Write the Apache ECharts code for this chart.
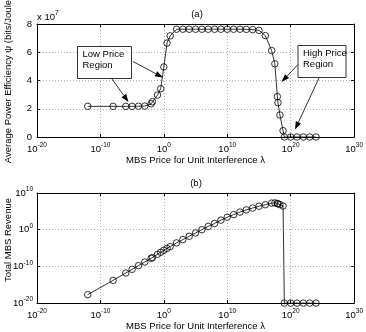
<!DOCTYPE html>
<html>
<head>
<meta charset="utf-8">
<script src="https://cdn.jsdelivr.net/npm/echarts@6/dist/echarts.min.js"></script>
<style>html,body{margin:0;padding:0;background:#fff}#main{width:366px;height:332px}</style>
</head>
<body>
<div id="main"></div>
<script>
// MBS price for unit interference (lambda)
var lambda = [1e-12, 1e-8, 1e-6, 1e-5, 1e-4, 1e-3, 1e-2, 1.6e-2, 1e-1, 3.2e-1,
    1, 3.2, 10, 1e2, 1e3, 1e4, 1e5, 1e6, 1e7, 1e8, 1e9, 1e10, 1e11, 1e12, 1e13, 1e14, 1e15, 1e16,
    1e17, 3.2e17, 7.9e17, 1e18, 2e18, 6.3e18, 1e19, 1e20, 1e21, 1e22, 1e23, 1e24];
// (a) average power efficiency, x 10^7 bits/Joule
var efficiency = [2.17, 2.17, 2.17, 2.17, 2.18, 2.19, 2.35, 2.5, 2.97, 3.42,
    4.96, 6.65, 7.16, 7.63, 7.63, 7.63, 7.63, 7.63, 7.63, 7.63, 7.63, 7.63, 7.63, 7.63, 7.62, 7.6, 7.55, 7.18,
    6.12, 5.18, 2.86, 2.43, 1.56, 0.45, 0, 0, 0, 0, 0, 0];
// (b) total MBS revenue
var revenue = [2e-18, 1.6e-14, 1.6e-12, 1.6e-11, 1.6e-10, 1.6e-9, 1.6e-8, 2.5e-8, 2e-7, 7e-7,
    2.5e-6, 8e-6, 2.5e-5, 2.5e-4, 2e-3, 1.6e-2, 0.13, 1, 8, 50, 400, 2500, 1.3e4, 6.3e4, 2.5e5, 8e5, 2.5e6, 6.3e6,
    1.8e7, 2e7, 1.4e7, 1.1e7, 7e6, 2.8e6, 1e-20, 1e-20, 1e-20, 1e-20, 1e-20, 1e-20];
var effTicks = [0, 2, 4, 6, 8];

var FONT = 'Liberation Sans, Arial, Helvetica, sans-serif';
var chart = echarts.init(document.getElementById('main'));

function pairs(xs, ys) {
    return xs.map(function (x, i) { return [x, ys[i]]; });
}
function powLabel(v) {
    var e = Math.round(Math.log(v) / Math.LN10);
    return '{b|10}{s|' + e + '}';
}
var powRich = {
    b: {fontSize: 9.5, fontFamily: FONT, color: '#000'},
    s: {fontSize: 6.5, fontFamily: FONT, color: '#000', padding: [0, 0, 7, 0]}
};
var gridLine = {show: true, lineStyle: {color: '#b0b0b0', type: [1, 2], width: 1}};
var frame = {show: true, onZero: false, lineStyle: {color: '#000', width: 1}};
var tick = {show: true, inside: true, length: 3, lineStyle: {color: '#000'}};

function logX(grid, top) {
    return {
        type: 'log', logBase: 10, gridIndex: grid, position: top ? 'top' : 'bottom',
        min: 1e-20, max: 1e30, interval: 10, splitNumber: 5,
        axisLine: frame, axisTick: tick,
        axisLabel: top ? {show: false} : {formatter: powLabel, rich: powRich, margin: 5},
        splitLine: top ? {show: false} : gridLine
    };
}

function arrow(x1, y1, x2, y2) {
    var a = Math.atan2(y2 - y1, x2 - x1), L = 8, W = 2.8;
    var bx = x2 - L * Math.cos(a), by = y2 - L * Math.sin(a);
    var px = -Math.sin(a) * W, py = Math.cos(a) * W;
    return [
        {type: 'line', z: 100, shape: {x1: x1, y1: y1, x2: bx, y2: by}, style: {stroke: '#000', lineWidth: 0.8}},
        {type: 'polygon', z: 100, shape: {points: [[x2, y2], [bx + px, by + py], [bx - px, by - py]]}, style: {fill: '#000'}}
    ];
}
function box(x, y, w, h, label) {
    return [
        {type: 'rect', z: 100, shape: {x: x, y: y, width: w, height: h}, style: {fill: '#fff', stroke: '#000', lineWidth: 0.8}},
        {type: 'text', z: 101, x: x + 5, y: y + 3, style: {text: label, font: '9.5px ' + FONT, fill: '#000', lineHeight: 10.5}}
    ];
}
function txt(x, y, s, rot) {
    return {type: 'text', z: 100, x: x, y: y, rotation: rot || 0,
        style: {text: s, font: '9.5px ' + FONT, fill: '#000', align: 'center', verticalAlign: 'middle'}};
}

var graphics = [].concat(
    box(77.5, 46.5, 54, 32, 'Low Price\nRegion'),
    arrow(133, 61.5, 163, 77.5),
    arrow(112, 79, 128.5, 102),
    box(298, 45.5, 48, 32, 'High Price\nRegion'),
    arrow(298, 64.5, 281.5, 82),
    arrow(319, 78, 295, 129.5),
    [
        txt(197, 14, '(a)'),
        txt(196, 183, '(b)'),
        txt(8, 80, 'Average Power Efficiency \u03c8 (bits/Joule)', Math.PI / 2),
        txt(8, 240, 'Total MBS Revenue', Math.PI / 2),
        {type: 'text', z: 100, x: 37, y: 10,
            style: {text: '{b|x 10}{s|7}', rich: powRich, fill: '#000'}}
    ]
);

var option = {
    animation: false,
    backgroundColor: '#fff',
    textStyle: {fontFamily: FONT, color: '#000'},
    grid: [
        {left: 37, top: 24, width: 319, height: 113},
        {left: 37, top: 193, width: 319, height: 113}
    ],
    xAxis: [
        Object.assign(logX(0, false), {name: 'MBS Price for Unit Interference \u03bb', nameLocation: 'middle', nameGap: 13,
            nameTextStyle: {fontSize: 9.5, fontFamily: FONT, color: '#000', verticalAlign: 'top'}}),
        logX(0, true),
        Object.assign(logX(1, false), {name: 'MBS Price for Unit Interference \u03bb', nameLocation: 'middle', nameGap: 13,
            nameTextStyle: {fontSize: 9.5, fontFamily: FONT, color: '#000', verticalAlign: 'top'}}),
        logX(1, true)
    ],
    yAxis: [
        {type: 'value', gridIndex: 0, min: effTicks[0], max: effTicks[effTicks.length - 1], interval: 2,
            axisLine: frame, axisTick: tick, splitLine: gridLine,
            axisLabel: {fontSize: 9.5, fontFamily: FONT, color: '#000', margin: 5}},
        {type: 'value', gridIndex: 0, position: 'right', min: 0, max: 8, interval: 2,
            axisLine: frame, axisTick: tick, splitLine: {show: false}, axisLabel: {show: false}},
        {type: 'log', logBase: 10, gridIndex: 1, min: 1e-20, max: 1e10, interval: 10, splitNumber: 3,
            axisLine: frame, axisTick: tick, splitLine: gridLine,
            axisLabel: {formatter: powLabel, rich: powRich, margin: 4}},
        {type: 'log', logBase: 10, gridIndex: 1, position: 'right', min: 1e-20, max: 1e10, interval: 10, splitNumber: 3,
            axisLine: frame, axisTick: tick, splitLine: {show: false}, axisLabel: {show: false}}
    ],
    series: [
        {type: 'line', xAxisIndex: 0, yAxisIndex: 0, data: pairs(lambda, efficiency),
            symbol: 'circle', symbolSize: 6.5, showAllSymbol: true, clip: false,
            lineStyle: {color: '#000', width: 0.8},
            itemStyle: {color: 'rgba(255,255,255,0)', borderColor: '#000', borderWidth: 0.8}},
        {type: 'line', xAxisIndex: 2, yAxisIndex: 2, data: pairs(lambda, revenue),
            symbol: 'circle', symbolSize: 6.5, showAllSymbol: true, clip: false,
            lineStyle: {color: '#000', width: 0.8},
            itemStyle: {color: 'rgba(255,255,255,0)', borderColor: '#000', borderWidth: 0.8}}
    ],
    graphic: graphics
};
chart.setOption(option);
</script>
</body>
</html>
